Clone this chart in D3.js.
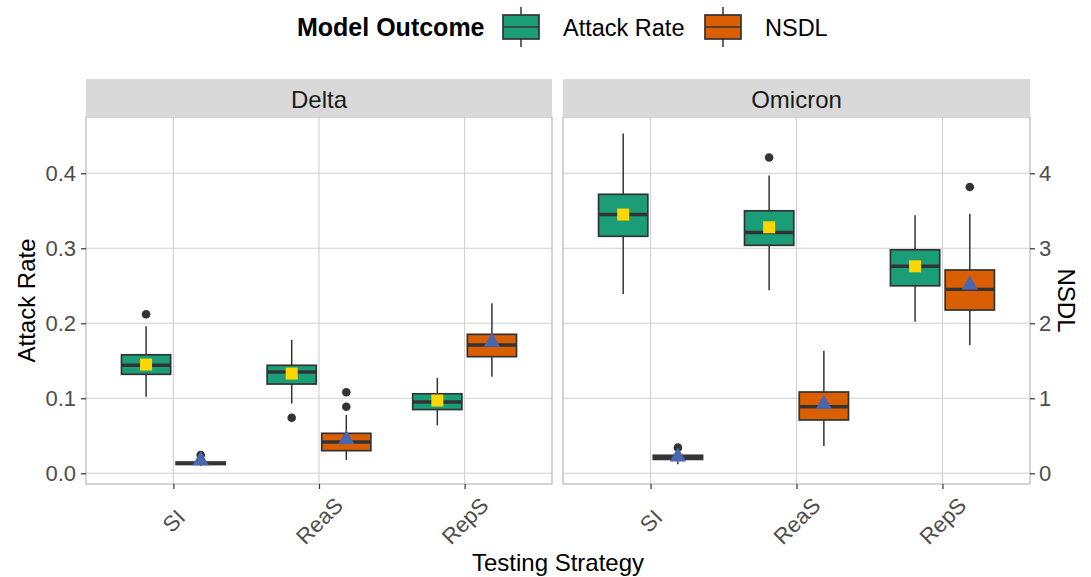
<!DOCTYPE html>
<html>
<head>
<meta charset="utf-8">
<script src="https://cdn.jsdelivr.net/npm/d3@7"></script>
<style>
  body { margin: 0; background: #fff; }
  svg { font-family: 'Liberation Sans', Arial, sans-serif; }
</style>
</head>
<body>
<svg id="graph" width="1091" height="577"></svg>
<script>
(function() {
const strategies = ['SI', 'ReaS', 'RepS'];
const variants = ['Delta', 'Omicron'];
const outcomes = ['Attack Rate', 'NSDL'];
const outcomeColors = ['#1B9E77', '#D95F02'];

// box stats per strategy: [lower whisker, q1, median, q3, upper whisker, mean]
const attackDelta = [
  [0.102, 0.132, 0.144, 0.158, 0.196, 0.145],
  [0.093, 0.119, 0.135, 0.144, 0.178, 0.133],
  [0.064, 0.085, 0.095, 0.106, 0.127, 0.097]
];
const attackOmicron = [
  [0.239, 0.316, 0.345, 0.372, 0.453, 0.345],
  [0.244, 0.304, 0.321, 0.350, 0.397, 0.328],
  [0.202, 0.250, 0.276, 0.298, 0.344, 0.276]
];
// NSDL is on the secondary axis (0-4)
const nsdlDelta = [
  [0.10, 0.117, 0.133, 0.150, 0.19, 0.17],
  [0.178, 0.302, 0.417, 0.533, 0.777, 0.45],
  [1.288, 1.555, 1.71, 1.853, 2.267, 1.75]
];
const nsdlOmicron = [
  [0.12, 0.185, 0.213, 0.24, 0.28, 0.22],
  [0.364, 0.711, 0.888, 1.084, 1.635, 0.92],
  [1.707, 2.177, 2.453, 2.711, 3.462, 2.51]
];
const attackDeltaOut = [[0.212], [0.074], []];
const attackOmicronOut = [[], [0.421], []];
const nsdlDeltaOut = [[0.244], [0.888, 1.08], []];
const nsdlOmicronOut = [[0.342], [], [3.817]];

const yTicks = [0, 0.1, 0.2, 0.3, 0.4];
const y2Ticks = [0, 1, 2, 3, 4];

const svg = d3.select('#graph');
const panel_top = 117;
const panel_bottom = 484;
const strip_top = 79;
const panels = [{ x0: 86, x1: 552 }, { x0: 563, x1: 1030 }];
const grid_col = '#CFCFCF';
const tick_col = '#333333';
const label_col = '#4D4D4D';

const y = d3.scaleLinear().domain([0, 0.4]).range([473.3, 173.3]);
const y2 = d3.scaleLinear().domain([0, 4]).range([473.3, 173.3]);

const boxData = [
  [attackDelta, nsdlDelta],
  [attackOmicron, nsdlOmicron]
];
const outData = [
  [attackDeltaOut, nsdlDeltaOut],
  [attackOmicronOut, nsdlOmicronOut]
];

function drawPanel(p, vi) {
  const x = d3.scalePoint().domain(strategies).range([p.x0, p.x1]).padding(0.6);
  const step = x.step();
  const g = svg.append('g');

  g.append('rect')
    .attr('x', p.x0).attr('y', panel_top)
    .attr('width', p.x1 - p.x0).attr('height', panel_bottom - panel_top)
    .attr('fill', '#fff');

  g.selectAll('.hgrid').data(yTicks).enter()
    .append('line')
    .attr('x1', p.x0).attr('x2', p.x1)
    .attr('y1', d => y(d)).attr('y2', d => y(d))
    .attr('stroke', grid_col).attr('stroke-width', 1.1);

  g.selectAll('.vgrid').data(strategies).enter()
    .append('line')
    .attr('x1', d => x(d)).attr('x2', d => x(d))
    .attr('y1', panel_top).attr('y2', panel_bottom)
    .attr('stroke', grid_col).attr('stroke-width', 1.1);

  // boxes
  const bw = step * 0.3375;
  outcomes.forEach((o, oi) => {
    const sc = oi === 0 ? y : y2;
    const off = (oi === 0 ? -1 : 1) * step * 0.1875;
    const stats = boxData[vi][oi];
    strategies.forEach((s, si) => {
      const d = stats[si];
      const cx = x(s) + off;
      g.append('line')
        .attr('x1', cx).attr('x2', cx)
        .attr('y1', sc(d[0])).attr('y2', sc(d[4]))
        .attr('stroke', tick_col).attr('stroke-width', 1.5);
      g.append('rect')
        .attr('x', cx - bw / 2).attr('width', bw)
        .attr('y', sc(d[3])).attr('height', sc(d[1]) - sc(d[3]))
        .attr('fill', outcomeColors[oi])
        .attr('stroke', tick_col).attr('stroke-width', 1.7);
      g.append('line')
        .attr('x1', cx - bw / 2).attr('x2', cx + bw / 2)
        .attr('y1', sc(d[2])).attr('y2', sc(d[2]))
        .attr('stroke', tick_col).attr('stroke-width', 3.4);
      g.selectAll(null).data(outData[vi][oi][si]).enter()
        .append('circle')
        .attr('cx', cx).attr('cy', v => sc(v)).attr('r', 4.3)
        .attr('fill', tick_col);
      // mean marker
      if (oi === 0) {
        g.append('path')
          .attr('d', d3.symbol(d3.symbolSquare, 144)())
          .attr('transform', `translate(${cx},${sc(d[5])})`)
          .attr('fill', '#FFD700');
      } else {
        g.append('path')
          .attr('d', d3.symbol(d3.symbolTriangle, 116)())
          .attr('transform', `translate(${cx},${sc(d[5])})`)
          .attr('fill', '#4A66AE');
      }
    });
  });

  g.append('rect')
    .attr('x', p.x0).attr('y', panel_top)
    .attr('width', p.x1 - p.x0).attr('height', panel_bottom - panel_top)
    .attr('fill', 'none').attr('stroke', '#B8B8B8').attr('stroke-width', 1.2);

  // strip
  g.append('rect')
    .attr('x', p.x0).attr('y', strip_top)
    .attr('width', p.x1 - p.x0).attr('height', panel_top - strip_top)
    .attr('fill', '#D9D9D9');
  g.append('text')
    .attr('x', (p.x0 + p.x1) / 2).attr('y', (strip_top + panel_top) / 2 + 1)
    .attr('text-anchor', 'middle').attr('dominant-baseline', 'central')
    .attr('font-size', 24).attr('fill', '#1A1A1A')
    .text(variants[vi]);

  // bottom axis
  const xa = svg.append('g')
    .attr('transform', `translate(0,${panel_bottom})`)
    .call(d3.axisBottom(x).tickSize(5).tickPadding(0));
  xa.select('.domain').remove();
  xa.selectAll('line').attr('stroke', tick_col).attr('stroke-width', 1.2);
  xa.selectAll('text')
    .attr('y', 0).attr('dy', null)
    .attr('dominant-baseline', 'central')
    .attr('text-anchor', 'middle')
    .attr('transform', 'translate(0,37) rotate(-45)')
    .attr('font-size', 22).attr('fill', label_col)
    .attr('font-family', 'Liberation Sans, Arial, sans-serif');
}

panels.forEach((p, i) => drawPanel(p, i));

function styleAxis(a) {
  a.select('.domain').remove();
  a.selectAll('line').attr('stroke', tick_col).attr('stroke-width', 1.2);
  a.selectAll('text')
    .attr('dy', null).attr('dominant-baseline', 'central')
    .attr('font-size', 22).attr('fill', label_col)
    .attr('font-family', 'Liberation Sans, Arial, sans-serif');
}

const ya = svg.append('g')
  .attr('transform', `translate(${panels[0].x0},0)`)
  .call(d3.axisLeft(y).tickValues(yTicks).tickFormat(d3.format('.1f')).tickSize(5).tickPadding(5));
styleAxis(ya);

const y2a = svg.append('g')
  .attr('transform', `translate(${panels[1].x1},0)`)
  .call(d3.axisRight(y2).tickValues(y2Ticks).tickFormat(d3.format('d')).tickSize(5).tickPadding(4));
styleAxis(y2a);

// axis titles
svg.append('text')
  .attr('transform', `translate(26,${(panel_top + panel_bottom) / 2}) rotate(-90)`)
  .attr('text-anchor', 'middle').attr('dominant-baseline', 'central')
  .attr('font-size', 24).attr('fill', '#000')
  .text('Attack Rate');
svg.append('text')
  .attr('transform', `translate(1066,${(panel_top + panel_bottom) / 2}) rotate(90)`)
  .attr('text-anchor', 'middle').attr('dominant-baseline', 'central')
  .attr('font-size', 24).attr('fill', '#000')
  .text('NSDL');
svg.append('text')
  .attr('x', (panels[0].x0 + panels[1].x1) / 2).attr('y', 571)
  .attr('text-anchor', 'middle')
  .attr('font-size', 24).attr('fill', '#000')
  .text('Testing Strategy');

// legend
const legend = svg.append('g');
legend.append('text')
  .attr('x', 297).attr('y', 36)
  .attr('font-size', 25).attr('font-weight', 'bold').attr('fill', '#000')
  .text('Model Outcome');
const keyX = [503, 705];
outcomes.forEach((o, i) => {
  const kx = keyX[i];
  legend.append('line')
    .attr('x1', kx + 18).attr('x2', kx + 18).attr('y1', 7).attr('y2', 47)
    .attr('stroke', tick_col).attr('stroke-width', 1.5);
  legend.append('rect')
    .attr('x', kx).attr('y', 15).attr('width', 36).attr('height', 24)
    .attr('fill', outcomeColors[i]).attr('stroke', tick_col).attr('stroke-width', 1.7);
  legend.append('line')
    .attr('x1', kx).attr('x2', kx + 36).attr('y1', 27).attr('y2', 27)
    .attr('stroke', tick_col).attr('stroke-width', 1.7);
  legend.append('text')
    .attr('x', kx + 60).attr('y', 36)
    .attr('font-size', 23.5).attr('fill', '#000')
    .text(o);
});
})();
</script>
</body>
</html>
